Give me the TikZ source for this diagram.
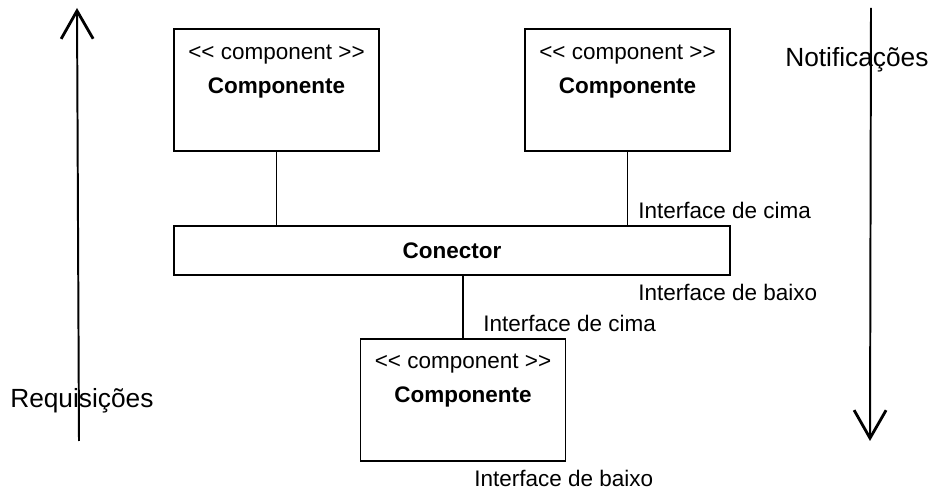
\documentclass[tikz,border=0pt]{standalone}
\usepackage{fontspec}
\setmainfont{Liberation Sans}
\usepackage{tikz}
\usetikzlibrary{calc}
\usetikzlibrary{arrows, arrows.meta}
\newcommand{\stereotype}[1]{<{}< #1 >{}>}	% no guillemet ligature
\tikzset{
	comp/.style={draw, line width=1.4pt, minimum width=5.125cm, minimum height=3.05cm, inner sep=0pt},
	txt/.style={inner sep=0pt, anchor=base, font=\fontsize{16}{19}\selectfont},
	iface/.style={inner sep=0pt, anchor=base west, font=\fontsize{16}{19}\selectfont},
	big/.style={inner sep=0pt, anchor=base west, font=\fontsize{18.7}{22}\selectfont},
	link/.style={line width=1.4pt},
	flow/.style={line width=1.4pt, -{Straight Barb[length=7mm, width=8mm, line width=2pt]}}
}

\begin{document}
\begin{tikzpicture}
	\useasboundingbox (0,0) rectangle (23.275,12.275);
	
	%upper components
	\node[comp] (left) at (6.9125,10.025) {};
		\node[txt] (leftst) at ([yshift=-0.775cm]left.north) {\stereotype{component}};
		\node[txt] (leftnm) at ([yshift=-1.625cm]left.north) {\bfseries Componente};
	\node[comp] (right) at (15.6875,10.025) {};
		\node[txt] (rightst) at ([yshift=-0.775cm]right.north) {\stereotype{component}};
		\node[txt] (rightnm) at ([yshift=-1.625cm]right.north) {\bfseries Componente};
	
	%connector
	\node[draw, line width=1.4pt, minimum width=13.9cm, minimum height=1.225cm, font=\fontsize{16}{19}\selectfont\bfseries] (conn) at (11.3,6.0125) {Conector};
	
	%lower component
	\node[comp] (low) at (11.575,2.275) {};
		\node[txt] (lowst) at ([yshift=-0.75cm]low.north) {\stereotype{component}};
		\node[txt] (lownm) at ([yshift=-1.6cm]low.north) {\bfseries Componente};
	
	%links
	\draw[link] (left.south) -- (left.south |- conn.north);
	\draw[link] (right.south) -- (right.south |- conn.north);
	\draw[link] (conn.south -| low.north) -- (low.north);
	
	%interfaces
	\node[iface] (upcima) at (15.95,6.8) {Interface de cima};
	\node[iface] (upbaixo) at (15.95,4.75) {Interface de baixo};
	\node[iface] (lowcima) at (12.075,3.975) {Interface de cima};
	\node[iface] (lowbaixo) at (11.85,0.1) {Interface de baixo};
	
	%side arrows
	\coordinate (reqbot) at (1.975,1.25);
	\coordinate (reqtop) at (1.925,12.075);
	\draw[flow] (reqbot) -- (reqtop);
	\node[big] (req) at (0.25,2.075) {Requisições};
	%
	\coordinate (nottop) at (21.775,12.075);
	\coordinate (notbot) at (21.75,1.25);
	\draw[flow] (nottop) -- (notbot);
	\node[big] (notif) at (19.625,10.6) {Notificações};
\end{tikzpicture}
\end{document}
